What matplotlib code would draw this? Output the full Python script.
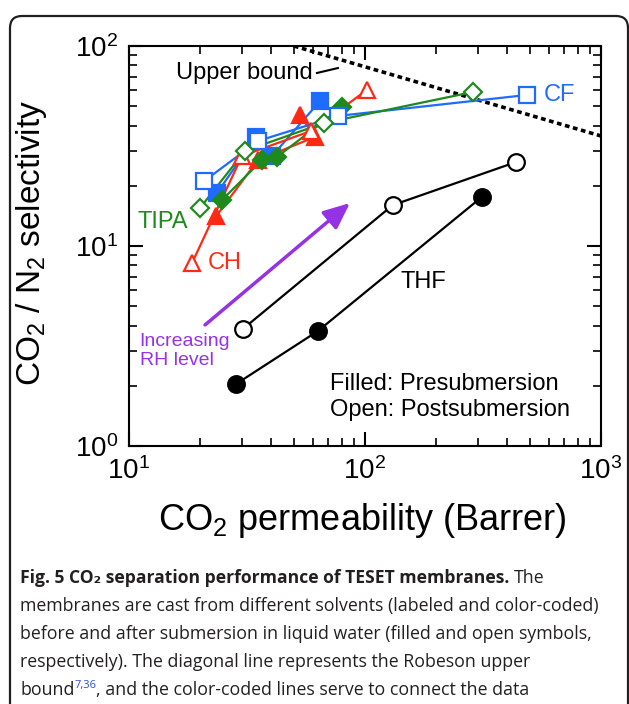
import matplotlib
matplotlib.use('Agg')
import matplotlib.pyplot as plt
from matplotlib.patches import FancyBboxPatch
from matplotlib.transforms import IdentityTransform

plt.rcParams['font.family'] = ['Liberation Sans', 'DejaVu Sans']
plt.rcParams['mathtext.fontset'] = 'custom'
plt.rcParams['mathtext.rm'] = 'Liberation Sans'
plt.rcParams['mathtext.it'] = 'Liberation Sans:italic'
plt.rcParams['mathtext.bf'] = 'Liberation Sans:bold'

# CO2 permeability (Barrer) / CO2/N2 selectivity
cf_fill_p = [23.6, 34.5, 40.4, 64.5]
cf_fill_s = [18.4, 35.1, 28.2, 53.1]
cf_open_p = [20.8, 35.2, 76.8, 485]
cf_open_s = [21.1, 33.5, 44.7, 56.9]

ch_fill_p = [23.4, 35.2, 61.4, 53.0]
ch_fill_s = [14.1, 26.9, 35.1, 45.2]
ch_open_p = [18.5, 30.1, 59.0, 102]
ch_open_s = [8.22, 28.2, 37.6, 60.3]

tipa_fill_p = [24.8, 36.6, 42.4, 79.9]
tipa_fill_s = [17.0, 26.9, 27.9, 49.5]
tipa_open_p = [20.0, 31.0, 67.0, 287]
tipa_open_s = [15.5, 29.9, 41.2, 58.9]

thf_fill_p = [28.4, 63.2, 313]
thf_fill_s = [2.04, 3.76, 17.6]
thf_open_p = [30.4, 131, 437]
thf_open_s = [3.85, 16.0, 26.3]

# Robeson upper bound end points
ub_p = [50, 1000]
ub_s = [100, 35.5]

blue = '#1f6bff'
red = '#ff2a14'
green = '#1e8a1e'
purple = '#9632e6'

fig = plt.figure(figsize=(6.29, 7.04), dpi=100)
ax = fig.add_axes([129/629, 1-446/704, 472/629, 400/704])

ax.plot(ub_p, ub_s, color='black', lw=2.6, ls=(0, (1.3, 1.0)), zorder=1)

series = [
    (thf_fill_p, thf_fill_s, 'black', 'o', True, 12),
    (thf_open_p, thf_open_s, 'black', 'o', False, 12),
    (cf_fill_p, cf_fill_s, blue, 's', True, 11),
    (ch_fill_p, ch_fill_s, red, '^', True, 12),
    (tipa_fill_p, tipa_fill_s, green, 'D', True, 9),
    (cf_open_p, cf_open_s, blue, 's', False, 11),
    (ch_open_p, ch_open_s, red, '^', False, 12),
    (tipa_open_p, tipa_open_s, green, 'D', False, 9),
]
for p, s, c, m, filled, ms in series:
    ax.plot(p, s, '-', color=c, lw=1.6, zorder=2)
for p, s, c, m, filled, ms in series:
    ax.plot(p, s, ls='none', marker=m, ms=ms, mec=c, mew=1.6,
            mfc=c if filled else 'white', zorder=3)

ax.set_xscale('log')
ax.set_yscale('log')
ax.set_xlim(10, 1000)
ax.set_ylim(1, 100)

ax.tick_params(which='both', direction='in', top=True, right=True,
               labelsize=20, pad=8)
ax.tick_params(which='major', length=10, width=1.5)
ax.tick_params(which='minor', length=5.5, width=1.2)
for sp in ax.spines.values():
    sp.set_linewidth(1.5)

# labels inside the plot
ax.text(60.2, 73.3, 'Upper bound', fontsize=17, ha='right', va='center')
ax.plot([62.6, 76.8], [73.3, 77.6], color='black', lw=1.5)
ax.text(573, 56.9, 'CF', fontsize=17, color=blue, ha='left', va='center')
ax.text(10.9, 13.2, 'TIPA', fontsize=17, color=green, ha='left', va='center')
ax.text(21.6, 8.22, 'CH', fontsize=17, color=red, ha='left', va='center')
ax.text(141, 6.6, 'THF', fontsize=17, color='black', ha='left', va='center')
ax.text(11.1, 2.99, 'Increasing\nRH level', fontsize=14, color=purple,
        ha='left', va='center', linespacing=1.15)
ax.annotate('', xy=(86.3, 16.4), xytext=(21.0, 4.03),
            arrowprops=dict(arrowstyle='-|>,head_length=0.8,head_width=0.35',
                            mutation_scale=20, color=purple, lw=2.5,
                            shrinkA=0, shrinkB=0))
ax.text(0.426, 0.155, 'Filled: Presubmersion', transform=ax.transAxes,
        fontsize=17, ha='left', va='center')
ax.text(0.426, 0.09, 'Open: Postsubmersion', transform=ax.transAxes,
        fontsize=17, ha='left', va='center')

fig.text(32/629, 1-243/704, 'CO$_2$ / N$_2$ selectivity', rotation=90,
         fontsize=24, ha='center', va='center')
fig.text(362/629, 1-530/704, 'CO$_2$ permeability (Barrer)',
         fontsize=26, ha='center', va='baseline')

# rounded frame around the figure panel
frame = FancyBboxPatch((10, -36), 618, 724, boxstyle='round,pad=0,rounding_size=12',
                       transform=IdentityTransform(), fill=False,
                       ec='#231f20', lw=1.6)
fig.patches.append(frame)

# caption
cap_font = ['Open Sans', 'DejaVu Sans']
cap_size = 12.8
cap_col = '#231f20'
x0 = 20/629
base = [583, 611, 639, 667, 695]
t1 = fig.text(x0, 1-base[0]/704, 'Fig. 5 CO\u2082 separation performance of TESET membranes.',
              family=cap_font, fontsize=12.6, fontweight='bold',
              color=cap_col, va='baseline')
fig.canvas.draw()
r = fig.canvas.get_renderer()
bb = t1.get_window_extent(r)
fig.text(bb.x1/629 + 5/629, 1-base[0]/704, 'The', family=cap_font,
         fontsize=cap_size, color=cap_col, va='baseline')
lines = ['membranes are cast from different solvents (labeled and color-coded)',
         'before and after submersion in liquid water (filled and open symbols,',
         'respectively). The diagonal line represents the Robeson upper']
for i, ln in enumerate(lines):
    fig.text(x0, 1-base[i+1]/704, ln, family=cap_font, fontsize=cap_size,
             color=cap_col, va='baseline')
t5 = fig.text(x0, 1-base[4]/704, 'bound', family=cap_font, fontsize=cap_size,
              color=cap_col, va='baseline')
fig.canvas.draw()
bb5 = t5.get_window_extent(r)
t6 = fig.text(bb5.x1/629, 1-(base[4]-7)/704, '7,36', family=cap_font,
              fontsize=8, color='#2b4bd6', va='baseline')
fig.canvas.draw()
bb6 = t6.get_window_extent(r)
fig.text(bb6.x1/629, 1-base[4]/704, ', and the color-coded lines serve to connect the data',
         family=cap_font, fontsize=cap_size, color=cap_col, va='baseline')

fig.savefig('out.png', dpi=100)
